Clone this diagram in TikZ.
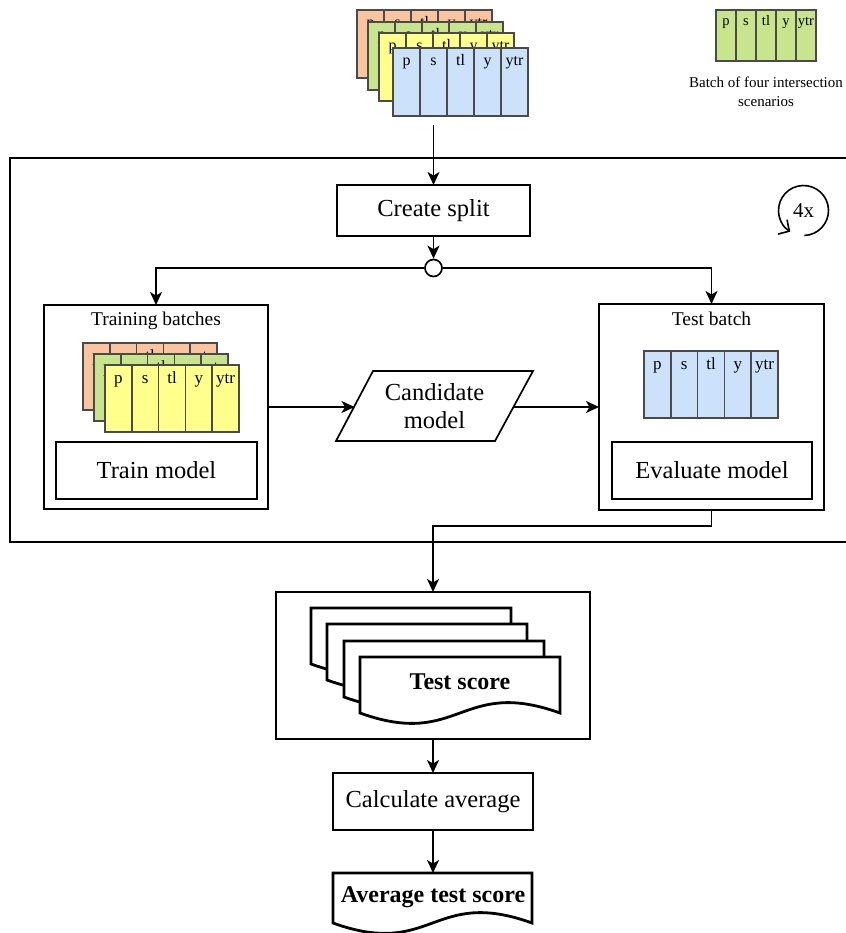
\documentclass[tikz,border=0pt]{standalone}
\usepackage{fontspec}
\setmainfont{Liberation Serif}
\usetikzlibrary{arrows.meta,calc}

\definecolor{batchline}{HTML}{4A4A4A}
\definecolor{bOrange}{HTML}{F9C49E}
\definecolor{bGreen}{HTML}{C8E58E}
\definecolor{bYellow}{HTML}{FFFF8C}
\definecolor{bBlue}{HTML}{CBE2FA}

% batch of five feature columns: name, x, y (top left), width, height, fill, font size
\newcommand\batchbox[7]{%
  \pgfmathsetmacro\batchcw{#4/5}%
  \node[batch, fill=#6, minimum width=#4pt, minimum height=#5pt, anchor=north west] (#1) at (#2,#3) {};
  \foreach \lab [count=\k from 0] in {p,s,tl,y,ytr}{%
    \ifnum\k>0 \draw[batchrule] (#2+\k*\batchcw,#3) -- (#2+\k*\batchcw,#3+#5);\fi
    \node[font=\fontsize{#7}{#7}\selectfont, anchor=base, inner sep=0pt] (#1-\k) at (#2+\k*\batchcw+\batchcw/2,#3+#7+1.5) {\lab};
  }%
}

% document symbol with wavy bottom: x, y (top left), width, side height, wave depth
\newcommand\docshape[5]{%
  \draw[docline] (#1,#2) -- (#1+#3,#2) -- (#1+#3,#2+#4)
    .. controls (#1+0.5*#3,#2+#4-#5) and (#1+0.5*#3,#2+#4+#5) .. (#1,#2+#4) -- cycle;
}

\begin{document}
\begin{tikzpicture}[x=1pt,y=-1pt,
  batch/.style={draw=batchline, line width=1.6pt, inner sep=0pt, outer sep=0pt},
  batchrule/.style={draw=batchline, line width=1.6pt},
  box/.style={draw, line width=1.7pt, fill=white, inner sep=0pt, outer sep=0pt,
    font=\fontsize{24.5}{28}\selectfont},
  frame/.style={draw, line width=1.7pt, inner sep=0pt, outer sep=0pt},
  arrow/.style={line width=1.7pt, -{Stealth[length=13pt,width=12pt,inset=3.5pt]}},
  docline/.style={draw, line width=2.8pt, fill=white, line join=miter},
  caption/.style={font=\fontsize{19.5}{22}\selectfont, anchor=base},
  legendtext/.style={font=\fontsize{15}{18}\selectfont, anchor=base},
  bigbold/.style={font=\fontsize{24}{28}\selectfont\bfseries}
]
\useasboundingbox (0,0) rectangle (845,933);

% ---- input data: stack of four batches ----
\batchbox{inO}{357}{10}{135}{68}{bOrange}{16}
\batchbox{inG}{368}{22}{135}{68}{bGreen}{16}
\batchbox{inY}{379}{33}{135}{68}{bYellow}{16}
\batchbox{inB}{393}{48}{135}{68}{bBlue}{16}
\coordinate (stacktail) at (433.5,125);

% ---- legend ----
\batchbox{legend}{716}{10}{100}{51}{bGreen}{14.5}
\node[legendtext] (legend1) at (766,88) {Batch of four intersection};
\node[legendtext] (legend2) at (766,107) {scenarios};

% ---- cross-validation loop ----
\node[frame, minimum width=845pt, minimum height=384pt, anchor=north west] (loopframe) at (10,158) {};

\node[box, minimum width=193pt, minimum height=51pt] (split) at (433.5,210.5) {Create split};
\node[circle, draw, line width=1.7pt, fill=white, minimum size=17pt, inner sep=0pt] (junc) at (433.5,268) {};

\node[font=\fontsize{21}{24}\selectfont, inner sep=0pt] (loopcount) at (803.5,210.5) {4x};
\draw[line width=1.6pt, -{Straight Barb[length=8pt,width=17pt]}]
  ($(loopcount.center)+(88:25)$) arc[start angle=88, end angle=-238, radius=25];

% training side
\node[frame, minimum width=224pt, minimum height=204pt] (trainbox) at (156,407) {};
\node[caption] (trainlbl) at (156,325) {Training batches};
\batchbox{trO}{83}{343}{134}{67}{bOrange}{17}
\batchbox{trG}{94}{354}{134}{67}{bGreen}{17}
\batchbox{trY}{105}{365}{134}{67}{bYellow}{17}
\node[box, minimum width=201pt, minimum height=57pt] (trainmodel) at (156.5,470.5) {Train model};

% test side
\node[frame, minimum width=225pt, minimum height=206pt] (testbox) at (711.5,407) {};
\node[caption] (testlbl) at (711.5,325) {Test batch};
\batchbox{teB}{644}{351}{134}{67}{bBlue}{17}
\node[box, minimum width=200pt, minimum height=57pt] (evalmodel) at (712,470.5) {Evaluate model};

% candidate model (parallelogram)
\draw[line width=1.7pt, fill=white] (373,371) -- (533,371) -- (495,441) -- (336,441) -- cycle;
\node[font=\fontsize{24.5}{28}\selectfont, align=center] (cand) at (434.5,406) {Candidate\\model};
\coordinate (candL) at (354.5,407);
\coordinate (candR) at (514,407);

% ---- results ----
\node[frame, minimum width=314pt, minimum height=147pt, anchor=north west] (scorebox) at (276,592) {};
\docshape{311}{608}{200}{56}{36}
\docshape{327}{624}{200}{56}{36}
\docshape{344}{641}{200}{56}{36}
\docshape{360}{657}{200}{56}{36}
\node[bigbold] (score) at (460,682) {Test score};

\node[box, minimum width=200pt, minimum height=57pt] (calc) at (433,801.5) {Calculate average};

\docshape{333}{873}{199}{50}{36}
\coordinate (avgtop) at (433,873);
\node[bigbold] (avg) at (433,897) {Average test score};

% ---- connectors ----
\draw[arrow] (stacktail) -- (split.north);
\draw[arrow] (split.south) -- (junc.north);
\draw[arrow] (junc.west) -| (trainbox.north);
\draw[arrow] (junc.east) -| (testbox.north);
\draw[arrow] (trainbox.east) -- (candL);
\draw[arrow] (candR) -- (testbox.west);
\draw[arrow] (testbox.south) -- ++(0,16) -| (scorebox.north);
\draw[arrow] (scorebox.south) -- (calc.north);
\draw[arrow] (calc.south) -- (avgtop);
\end{tikzpicture}
\end{document}
